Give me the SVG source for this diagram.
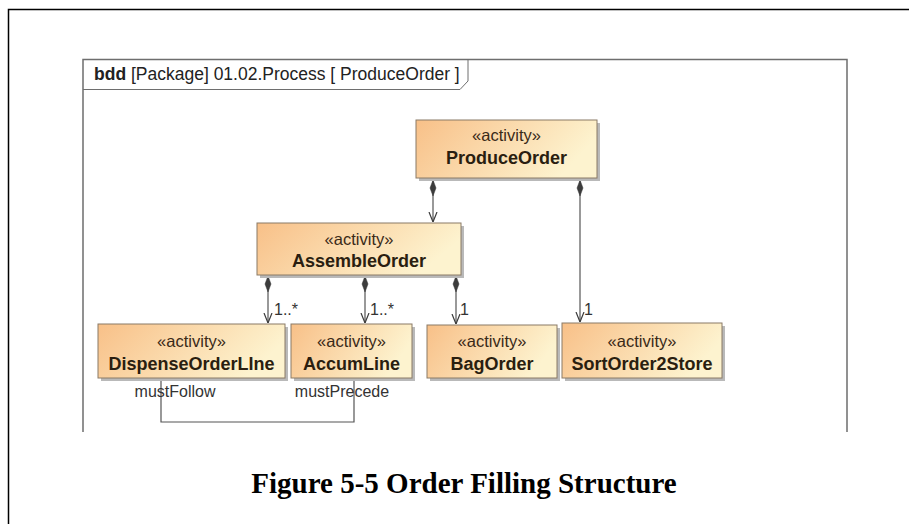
<svg xmlns="http://www.w3.org/2000/svg" width="909" height="524" viewBox="0 0 909 524">
<defs>
<linearGradient id="g" x1="0" y1="0" x2="1" y2="0.3">
<stop offset="0" stop-color="#f8c088"/>
<stop offset="1" stop-color="#fdf3cf"/>
</linearGradient>
<marker id="dia" viewBox="0 0 16 8" refX="0" refY="4" markerWidth="16" markerHeight="8" markerUnits="userSpaceOnUse" orient="auto">
<path d="M0,4 L8,1 L16,4 L8,7 Z" fill="#3c3c3c" stroke="#3c3c3c" stroke-width="0.5"/>
</marker>
<marker id="arr" viewBox="0 0 10 10" refX="10" refY="5" markerWidth="10" markerHeight="10" markerUnits="userSpaceOnUse" orient="auto">
<path d="M0,1 L10,5 L0,9" fill="none" stroke="#3c3c3c" stroke-width="1.2"/>
</marker>
</defs>
<style>
.box{fill:url(#g);stroke:#8a7a66;stroke-width:1}
.sh{fill:#b9b9b9}
.st{font-family:"Liberation Sans",Arial,sans-serif;font-size:16.5px;fill:#3a2a18;text-anchor:middle}
.nm{font-family:"Liberation Sans",Arial,sans-serif;font-size:18px;font-weight:bold;fill:#2a1e10;text-anchor:middle}
.lbl{font-family:"Liberation Sans",Arial,sans-serif;font-size:16px;fill:#333}
.con{fill:none;stroke:#555;stroke-width:1.2}
</style>
<rect x="8.5" y="9.5" width="910" height="520" fill="none" stroke="#000" stroke-width="1.5"/>
<g id="frame">
<path d="M83,432 L83,59.5 L847,59.5 L847,432" fill="none" stroke="#6e6e6e" stroke-width="1.5"/>
<path d="M83,89.5 L460,89.5 L468,81 L468,59.5" fill="none" stroke="#6e6e6e" stroke-width="1"/>
<text x="94" y="80" font-family="Liberation Sans,Arial,sans-serif" font-size="17.5" fill="#222"><tspan font-weight="bold">bdd</tspan> [Package] 01.02.Process [ ProduceOrder ]</text>
</g>
<g id="connectors">
<path class="con" d="M433,180 L433,222" marker-start="url(#dia)" marker-end="url(#arr)"/>
<path class="con" d="M580,180 L580,322" marker-start="url(#dia)" marker-end="url(#arr)"/>
<path class="con" d="M268,276 L268,323" marker-start="url(#dia)" marker-end="url(#arr)"/>
<path class="con" d="M365,276 L365,323" marker-start="url(#dia)" marker-end="url(#arr)"/>
<path class="con" d="M456,276 L456,324" marker-start="url(#dia)" marker-end="url(#arr)"/>
<path class="con" d="M161,378 L161,422 L354,422 L354,378"/>
<text class="lbl" x="274" y="315">1..*</text>
<text class="lbl" x="370" y="315">1..*</text>
<text class="lbl" x="460" y="315">1</text>
<text class="lbl" x="584" y="315">1</text>
<text class="lbl" x="175" y="397" text-anchor="middle">mustFollow</text>
<text class="lbl" x="342" y="397" text-anchor="middle">mustPrecede</text>
</g>
<g id="ProduceOrder">
<rect class="sh" x="419" y="123" width="181" height="58"/>
<rect class="box" x="416" y="120" width="181" height="58"/>
<text class="st" x="506.5" y="141">«activity»</text>
<text class="nm" x="506.5" y="164">ProduceOrder</text>
</g>
<g id="AssembleOrder">
<rect class="sh" x="260" y="226" width="204" height="52"/>
<rect class="box" x="257" y="223" width="204" height="52"/>
<text class="st" x="359" y="245">«activity»</text>
<text class="nm" x="359" y="267">AssembleOrder</text>
</g>
<g id="DispenseOrderLine">
<rect class="sh" x="101" y="327" width="187" height="54"/>
<rect class="box" x="98" y="324" width="187" height="54"/>
<text class="st" x="191.5" y="347">«activity»</text>
<text class="nm" x="191.5" y="370">DispenseOrderLIne</text>
</g>
<g id="AccumLine">
<rect class="sh" x="294" y="327" width="121" height="54"/>
<rect class="box" x="291" y="324" width="121" height="54"/>
<text class="st" x="351.5" y="347">«activity»</text>
<text class="nm" x="351.5" y="370">AccumLine</text>
</g>
<g id="BagOrder">
<rect class="sh" x="430" y="328" width="130" height="53"/>
<rect class="box" x="427" y="325" width="130" height="53"/>
<text class="st" x="492" y="347">«activity»</text>
<text class="nm" x="492" y="370">BagOrder</text>
</g>
<g id="SortOrder2Store">
<rect class="sh" x="565" y="326" width="160" height="55"/>
<rect class="box" x="562" y="323" width="160" height="55"/>
<text class="st" x="642" y="347">«activity»</text>
<text class="nm" x="642" y="370">SortOrder2Store</text>
</g>
<text x="464" y="493" text-anchor="middle" font-family="Liberation Serif,Times New Roman,serif" font-size="29" font-weight="bold" fill="#000">Figure 5-5 Order Filling Structure</text>
</svg>
